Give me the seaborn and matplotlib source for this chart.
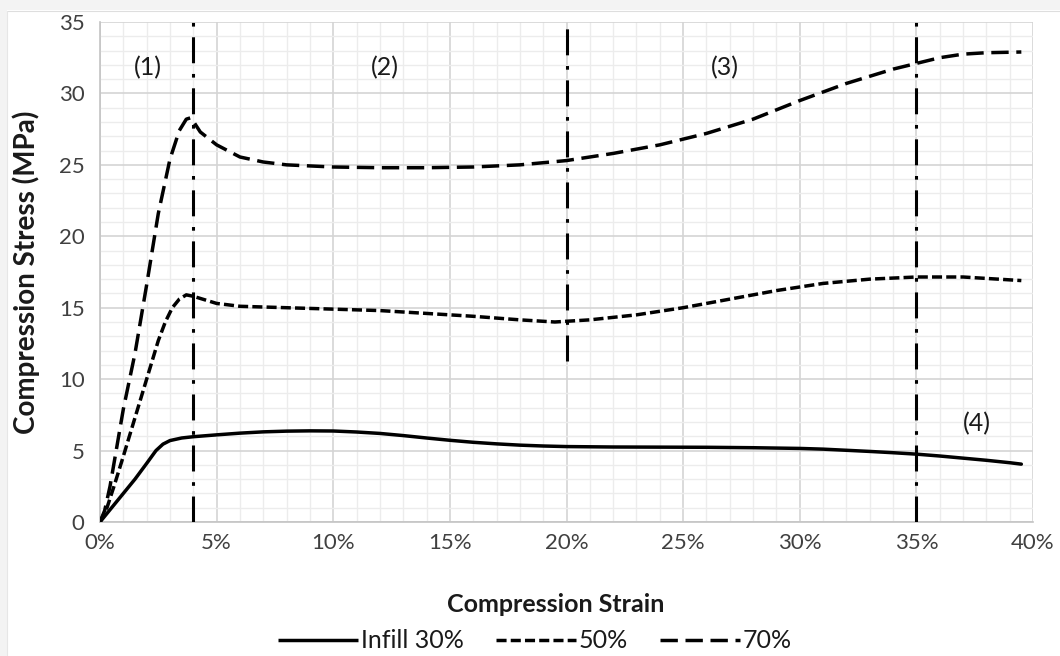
import matplotlib
matplotlib.use("Agg")
import matplotlib.pyplot as plt
from matplotlib.lines import Line2D
from matplotlib.patches import Rectangle
from matplotlib.ticker import MultipleLocator, PercentFormatter
import pandas as pd
import seaborn as sns

# Compression stress-strain curves for three infill densities
strain_30 = [0, 0.5, 1.0, 1.5, 2.0, 2.4, 2.7, 3.0, 3.5, 4.0, 5.0, 6.0, 7.0, 8.0, 9.0, 10.0,
             11.0, 12.0, 13.0, 14.0, 15.0, 16.0, 17.0, 18.0, 19.0, 20.0, 22.0, 24.0,
             26.0, 28.0, 30.0, 31.0, 32.0, 33.0, 34.0, 35.0, 36.0, 37.0, 38.0, 39.0, 39.5]
stress_30 = [0, 1.0, 2.0, 3.0, 4.1, 5.0, 5.45, 5.7, 5.88, 5.97, 6.1, 6.22, 6.31, 6.36, 6.38, 6.37,
             6.3, 6.2, 6.05, 5.88, 5.72, 5.58, 5.47, 5.38, 5.32, 5.28, 5.25, 5.24,
             5.23, 5.2, 5.15, 5.1, 5.02, 4.94, 4.85, 4.75, 4.62, 4.47, 4.32, 4.15, 4.05]

strain_50 = [0, 0.3, 0.6, 1.0, 1.5, 2.0, 2.5, 2.8, 3.1, 3.4, 3.7, 4.0, 4.5, 5.0, 6.0, 8.0,
             10.0, 12.0, 14.0, 16.0, 18.0, 19.5, 21.0, 23.0, 25.0, 27.0, 29.0, 31.0,
             33.0, 35.0, 37.0, 39.5]
stress_50 = [0, 1.0, 2.5, 4.6, 7.3, 10.0, 12.7, 14.0, 15.0, 15.6, 15.9, 15.8, 15.55, 15.3, 15.1, 15.0,
             14.9, 14.8, 14.6, 14.4, 14.15, 14.0, 14.15, 14.5, 15.0, 15.6, 16.2, 16.7,
             17.0, 17.15, 17.15, 16.9]

strain_70 = [0, 0.2, 0.43, 1.0, 1.5, 2.0, 2.5, 3.0, 3.4, 3.7, 3.9, 4.3, 5.0, 6.0, 7.0, 8.0,
             10.0, 12.0, 14.0, 16.0, 18.0, 20.0, 22.0, 24.0, 26.0, 28.0, 30.0, 32.0,
             34.0, 35.0, 36.0, 37.0, 38.0, 39.5]
stress_70 = [0, 0.8, 2.5, 7.9, 11.8, 16.6, 21.6, 25.4, 27.4, 28.2, 28.3, 27.3, 26.4, 25.55, 25.2, 25.0,
             24.85, 24.8, 24.8, 24.85, 25.0, 25.3, 25.8, 26.4, 27.2, 28.2, 29.5, 30.7,
             31.7, 32.1, 32.5, 32.75, 32.85, 32.9]

series_names = ["Infill 30%", "50%", "70%"]

# Region boundaries (strain %) and their vertical extent (MPa)
boundary_strain = [4, 20, 35]
boundary_low = [0, 11.3, 0]
boundary_high = [35, 35, 35]

region_labels = ["(1)", "(2)", "(3)", "(4)"]
region_x = [2.06, 12.2, 26.8, 37.6]
region_y = [31.8, 31.8, 31.8, 6.9]

df = pd.concat([
    pd.DataFrame({"strain": strain_30, "stress": stress_30, "infill": series_names[0]}),
    pd.DataFrame({"strain": strain_50, "stress": stress_50, "infill": series_names[1]}),
    pd.DataFrame({"strain": strain_70, "stress": stress_70, "infill": series_names[2]}),
], ignore_index=True)

sns.set_theme(style="white")
plt.rcParams["font.family"] = ["Lato", "DejaVu Sans"]

W, H = 1060, 656
fig = plt.figure(figsize=(W / 100, H / 100), dpi=100, facecolor="white")
ax = fig.add_axes([100 / W, 1 - 522 / H, 933 / W, 500 / H])
ax.set_facecolor("white")

# light frame strips along the top and left edges
fig.patches.append(Rectangle((0, 1 - 10 / H), 1, 10 / H, transform=fig.transFigure,
                             facecolor="#f3f3f3", edgecolor="none", zorder=0))
fig.patches.append(Rectangle((0, 0), 7 / W, 1, transform=fig.transFigure,
                             facecolor="#f3f3f3", edgecolor="none", zorder=0))
fig.add_artist(Line2D([7 / W, 1], [1 - 11 / H, 1 - 11 / H], transform=fig.transFigure,
                      color="#dedede", lw=0.8))
fig.add_artist(Line2D([7 / W, 7 / W], [0, 1 - 11 / H], transform=fig.transFigure,
                      color="#e6e6e6", lw=0.8))

lw = 2.5
dash_map = {
    "Infill 30%": "",
    "50%": (2.9, 1.2),
    "70%": (5.0, 2.2),
}

sns.lineplot(data=df, x="strain", y="stress", style="infill", dashes=dash_map,
             color="black", linewidth=lw, sort=False, legend=False, ax=ax, zorder=4)
for ln in ax.get_lines():
    ln.set_dash_capstyle("butt")
    ln.set_solid_capstyle("round")
    ln.set_solid_joinstyle("round")

# dash-dot boundaries between deformation regions
ax.vlines(boundary_strain, boundary_low, boundary_high, colors="black", linewidth=2.2,
          linestyles=[(0, (8.5, 3.5, 1.2, 3.5))], zorder=3)

for lab, x, y in zip(region_labels, region_x, region_y):
    ax.text(x, y, lab, ha="center", va="center", fontsize=18, color="#1a1a1a", zorder=5)

ax.set_xlim(0, 40)
ax.set_ylim(0, 35)
ax.xaxis.set_major_locator(MultipleLocator(5))
ax.xaxis.set_minor_locator(MultipleLocator(1))
ax.yaxis.set_major_locator(MultipleLocator(5))
ax.yaxis.set_minor_locator(MultipleLocator(1))
ax.xaxis.set_major_formatter(PercentFormatter(decimals=0))

ax.grid(which="major", color="#d4d4d4", linewidth=1.2)
ax.grid(which="minor", color="#ececec", linewidth=1.0)
ax.set_axisbelow(True)

for side in ["top", "right"]:
    ax.spines[side].set_visible(False)
for side in ["left", "bottom"]:
    ax.spines[side].set_color("#c4c4c4")
    ax.spines[side].set_linewidth(1.2)

ax.tick_params(axis="both", which="major", length=5, width=1.1, color="#c4c4c4",
               labelsize=16, labelcolor="#404040", pad=6)
ax.tick_params(axis="x", which="major", pad=3)
ax.tick_params(which="minor", length=0)

ax.set_xlabel("Compression Strain", fontsize=18, fontweight="bold", color="#1a1a1a")
ax.xaxis.set_label_coords(0.488, -0.142)
ax.set_ylabel("Compression Stress (MPa)", fontsize=20, fontweight="bold", color="#1a1a1a",
              labelpad=14)

handles = [
    Line2D([], [], color="black", lw=lw, solid_capstyle="butt"),
    Line2D([], [], color="black", lw=lw, dashes=dash_map["50%"], dash_capstyle="butt"),
    Line2D([], [], color="black", lw=lw, dashes=dash_map["70%"], dash_capstyle="butt"),
]
fig.legend(handles, series_names, loc="center", bbox_to_anchor=(535 / W, 1 - 641 / H),
           ncol=3, frameon=False, fontsize=18, handlelength=3.2, handletextpad=0.1,
           columnspacing=1.3, labelcolor="#1a1a1a", borderpad=0)

fig.savefig("out.png", dpi=100, facecolor="white")
